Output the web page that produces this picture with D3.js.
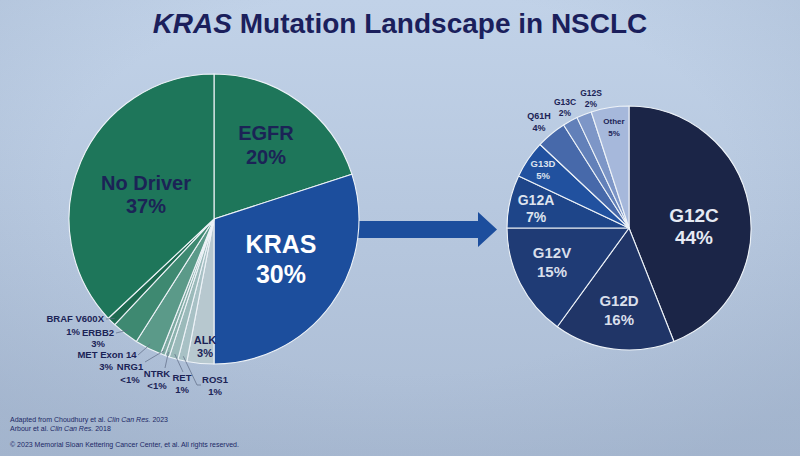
<!doctype html>
<html>
<head>
<meta charset="utf-8">
<title>KRAS Mutation Landscape in NSCLC</title>
<script src="https://cdnjs.cloudflare.com/ajax/libs/d3/7.8.5/d3.min.js"></script>
<style>
  body { margin: 0; background: #b9c9df; }
  svg { display: block; font-family: 'Liberation Sans', Arial, sans-serif; }
</style>
</head>
<body>
<div id="chart"></div>
<script>
// left pie: oncogenic drivers in NSCLC, clockwise from 12 o'clock
const drivers = ["EGFR", "KRAS", "ALK", "ROS1", "RET", "NTRK", "NRG1", "MET Exon 14", "ERBB2", "BRAF V600X", "No Driver"];
const driverShare = [20, 30, 3, 1, 1, 0.5, 0.5, 3, 3, 1, 37];
const driverText = ["20%", "30%", "3%", "1%", "1%", "<1%", "<1%", "3%", "3%", "1%", "37%"];

// right pie: KRAS mutation subtypes, clockwise from 12 o'clock
const mutations = ["G12C", "G12D", "G12V", "G12A", "G13D", "Q61H", "G13C", "G12S", "Other"];
const mutationShare = [44, 16, 15, 7, 5, 4, 2, 2, 5];
const mutationText = ["44%", "16%", "15%", "7%", "5%", "4%", "2%", "2%", "5%"];

const driverColors = ["#1e765a", "#1c4e9d", "#b7c8cf", "#a8c1c5", "#9bbaba", "#8cb2ad", "#7eaaa1", "#5b9a89", "#3e8971", "#1d6a50", "#1e765a"];
const mutationColors = ["#1b2547", "#203567", "#1f3b75", "#1e4589", "#21519f", "#4769aa", "#6280b9", "#7d96c7", "#a6b8db"];

const W = 800, H = 456;
const navy = "#1b2356";

const svg = d3.select("#chart").append("svg")
  .attr("width", W).attr("height", H);

// slide background (photo of a projected slide)
const defs = svg.append("defs");
const bg = defs.append("linearGradient").attr("id", "bg")
  .attr("x1", 0).attr("y1", 0).attr("x2", 0).attr("y2", 1);
bg.append("stop").attr("offset", "0%").attr("stop-color", "#c1d2e8");
bg.append("stop").attr("offset", "100%").attr("stop-color", "#abbcd4");
const vig = defs.append("radialGradient").attr("id", "vig")
  .attr("cx", 0.5).attr("cy", 0.4).attr("r", 0.7);
vig.append("stop").attr("offset", "60%").attr("stop-color", "#8fa2bd").attr("stop-opacity", 0);
vig.append("stop").attr("offset", "100%").attr("stop-color", "#8fa2bd").attr("stop-opacity", 0.3);
svg.append("rect").attr("width", W).attr("height", H).attr("fill", "url(#bg)");
svg.append("rect").attr("width", W).attr("height", H).attr("fill", "url(#vig)");

// title
const title = svg.append("text")
  .attr("x", 400).attr("y", 33)
  .attr("text-anchor", "middle")
  .attr("font-size", 28).attr("font-weight", "bold")
  .attr("fill", "#1b1f5c");
title.append("tspan").attr("font-style", "italic").text("KRAS");
title.append("tspan").text(" Mutation Landscape in NSCLC");

// geometry
const left = { cx: 214, cy: 219, r: 145 };
const right = { cx: 629, cy: 228, r: 122 };

const pie = d3.pie().sort(null).value(d => d.v);

// arrow from KRAS slice to the KRAS pie
const ay = (left.cy + right.cy) / 2 + 6;
const tipX = right.cx - right.r - 10;
const headX = tipX - 19;
svg.append("path")
  .attr("d", d3.line()([
    [left.cx + left.r - 10, ay - 8.5], [headX, ay - 8.5], [headX, ay - 17.5],
    [tipX, ay], [headX, ay + 17.5], [headX, ay + 8.5], [left.cx + left.r - 10, ay + 8.5]
  ]) + "Z")
  .attr("fill", "#1c4e9d");

function drawPie(g, names, values, colors, geo) {
  const arcs = pie(names.map((n, i) => ({ n: n, v: values[i], c: colors[i] })));
  const arc = d3.arc().innerRadius(0).outerRadius(geo.r);
  g.attr("transform", `translate(${geo.cx},${geo.cy})`)
    .selectAll("path").data(arcs).join("path")
    .attr("d", arc)
    .attr("fill", d => d.data.c)
    .attr("stroke", "#eef3f8")
    .attr("stroke-width", 1.1)
    .attr("stroke-linejoin", "round");
  return arcs;
}

const gL = svg.append("g");
const leftArcs = drawPie(gL, drivers, driverShare, driverColors, left);
const gR = svg.append("g");
const rightArcs = drawPie(gR, mutations, mutationShare, mutationColors, right);

// two-line label block centred at (dx, dy)
function block(g, name, pct, p) {
  const t = g.append("g").attr("font-weight", "bold").attr("fill", p.fill)
    .attr("font-size", p.size).attr("text-anchor", "middle");
  t.append("text").attr("x", p.dx).attr("y", p.dy - p.gap / 2 + 0.36 * p.size).text(name);
  t.append("text").attr("x", p.dx).attr("y", p.dy + p.gap / 2 + 0.36 * p.size).text(pct);
}

// inside labels, offsets from pie centre
const leftInside = {
  "EGFR": { dx: 52, dy: -74, size: 20, gap: 24, fill: navy },
  "KRAS": { dx: 67, dy: 40, size: 25, gap: 30, fill: "#ffffff" },
  "ALK": { dx: -9, dy: 128, size: 11, gap: 13, fill: navy },
  "No Driver": { dx: -68, dy: -25, size: 20, gap: 23, fill: navy }
};
// outside labels: name, percent, leader end
const leftOutside = {
  "BRAF V600X": { name: [-110, 103], pct: [-134, 116], anchor: "end", lead: [[-108, 100]] },
  "ERBB2": { name: [-116, 117], pct: [-116, 128], anchor: "middle", lead: [[-98, 114]] },
  "MET Exon 14": { name: [-107, 139], pct: [-108, 151], anchor: "middle", lead: [[-76, 136]] },
  "NRG1": { name: [-84, 151], pct: [-84, 164], anchor: "middle", lead: [[-69, 143]] },
  "NTRK": { name: [-57, 158], pct: [-57, 170], anchor: "middle", lead: [[-49, 149]] },
  "RET": { name: [-32, 162], pct: [-32, 174], anchor: "middle", lead: [[-31, 153]] },
  "ROS1": { name: [1, 164], pct: [1, 176], anchor: "middle", lead: [[-17, 166], [-13, 166]] }
};

leftArcs.forEach((d, i) => {
  const n = d.data.n;
  if (leftInside[n]) {
    block(gL, n, driverText[i], leftInside[n]);
  } else if (leftOutside[n]) {
    const o = leftOutside[n];
    const a = (d.startAngle + d.endAngle) / 2;
    const start = [Math.sin(a) * left.r * 0.97, -Math.cos(a) * left.r * 0.97];
    gL.append("path")
      .attr("d", d3.line()([start].concat(o.lead)))
      .attr("fill", "none").attr("stroke", "#5d6a84").attr("stroke-width", 0.7);
    const t = gL.append("g").attr("font-weight", "bold").attr("fill", navy)
      .attr("font-size", 9.5).attr("text-anchor", o.anchor);
    t.append("text").attr("x", o.name[0]).attr("y", o.name[1]).text(n);
    t.append("text").attr("x", o.pct[0]).attr("y", o.pct[1]).text(driverText[i]);
  }
});

const rightLabels = {
  "G12C": { dx: 65, dy: -2, size: 19, gap: 22, fill: "#e6eaf3" },
  "G12D": { dx: -10, dy: 82, size: 15, gap: 19, fill: "#d9dfeb" },
  "G12V": { dx: -77, dy: 34, size: 15, gap: 19, fill: "#d9dfeb" },
  "G12A": { dx: -93, dy: -20, size: 14, gap: 17, fill: "#dde3ee" },
  "G13D": { dx: -86, dy: -58, size: 9.5, gap: 12, fill: "#dde3ee" },
  "Q61H": { dx: -90, dy: -106, size: 9, gap: 12, fill: navy },
  "G13C": { dx: -64, dy: -121, size: 8.5, gap: 11, fill: navy },
  "G12S": { dx: -38, dy: -130, size: 8.5, gap: 11, fill: navy },
  "Other": { dx: -15, dy: -101, size: 8, gap: 12, fill: navy }
};
rightArcs.forEach((d, i) => block(gR, d.data.n, mutationText[i], rightLabels[d.data.n]));

// sources and copyright
const foot = svg.append("g").attr("font-size", 7).attr("fill", "#1c2866");
const f1 = foot.append("text").attr("x", 10).attr("y", 422);
f1.append("tspan").text("Adapted from Choudhury et al. ");
f1.append("tspan").attr("font-style", "italic").text("Clin Can Res.");
f1.append("tspan").text(" 2023");
const f2 = foot.append("text").attr("x", 10).attr("y", 431);
f2.append("tspan").text("Arbour et al. ");
f2.append("tspan").attr("font-style", "italic").text("Clin Can Res.");
f2.append("tspan").text(" 2018");
foot.append("text").attr("x", 10).attr("y", 447)
  .text("\u00a9 2023 Memorial Sloan Kettering Cancer Center, et al. All rights reserved.");
</script>
</body>
</html>
